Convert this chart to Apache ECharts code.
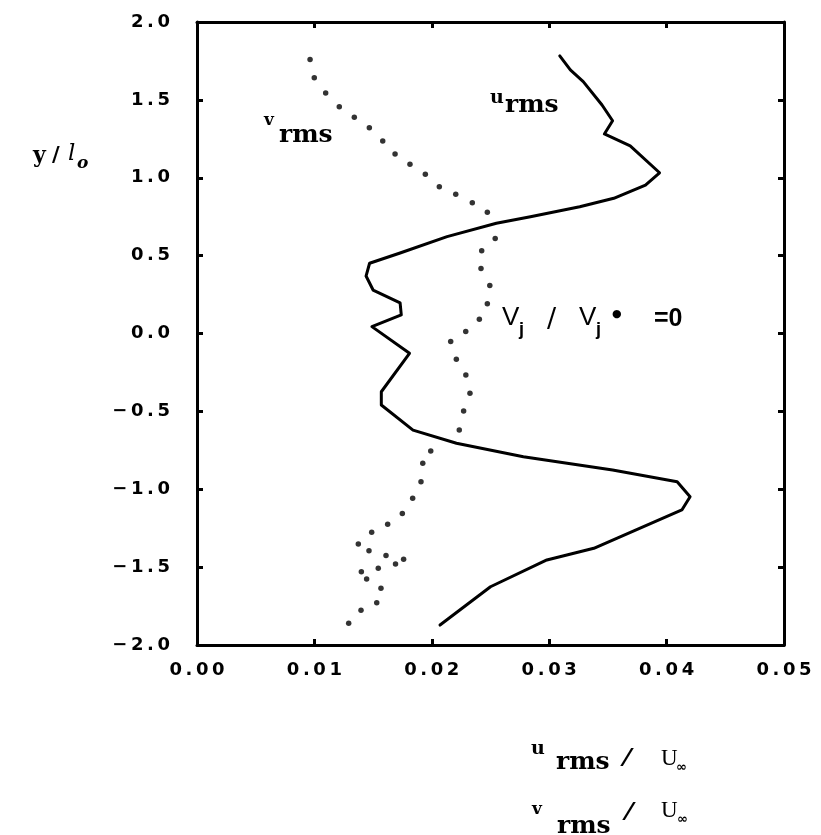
<!DOCTYPE html>
<html>
<head>
<meta charset="utf-8">
<script src="https://cdn.jsdelivr.net/npm/echarts@6/dist/echarts.min.js"></script>
<style>
html,body{margin:0;padding:0;background:#fff;}
#chart{width:821px;height:835px;}
</style>
</head>
<body>
<div id="chart"></div>
<script>
// ---- data ----
const xTickValues = [0, 0.01, 0.02, 0.03, 0.04, 0.05];
const yTickValues = [-2.0, -1.5, -1.0, -0.5, 0.0, 0.5, 1.0, 1.5, 2.0];

// u_rms / U_inf (solid line), ordered from top to bottom
const uRmsX = [0.0309,0.0318,0.0329,0.0345,0.0354,0.0347,0.0369,0.0394,0.0382,0.0355,0.0326,0.0284,0.0255,0.0213,0.0173,0.0147,0.0144,0.0150,0.0173,0.0174,0.0149,0.0181,0.0157,0.0157,0.0184,0.0221,0.0278,0.0354,0.0409,0.0420,0.0413,0.0338,0.0298,0.0250,0.0207];
const uRmsY = [1.782,1.692,1.617,1.467,1.366,1.281,1.204,1.032,0.953,0.868,0.814,0.750,0.708,0.622,0.517,0.451,0.369,0.279,0.196,0.119,0.044,-0.127,-0.374,-0.459,-0.620,-0.705,-0.791,-0.876,-0.952,-1.048,-1.133,-1.379,-1.454,-1.626,-1.872];

// v_rms / U_inf (dotted), ordered from top to bottom
const vRmsX = [0.00963,0.00999,0.01096,0.01212,0.01340,0.01468,0.01582,0.01687,0.01814,0.01945,0.02064,0.02204,0.02345,0.02473,0.02540,0.02425,0.02419,0.02494,0.02473,0.02405,0.02289,0.02161,0.02209,0.02290,0.02325,0.02271,0.02234,0.01991,0.01923,0.01908,0.01837,0.01749,0.01624,0.01488,0.01374,0.01465,0.01610,0.01760,0.01691,0.01544,0.01400,0.01445,0.01567,0.01531,0.01397,0.01292];
const vRmsY = [1.760,1.642,1.544,1.456,1.388,1.321,1.236,1.152,1.086,1.022,0.943,0.894,0.840,0.778,0.610,0.531,0.417,0.308,0.191,0.092,0.013,-0.051,-0.166,-0.266,-0.384,-0.498,-0.620,-0.754,-0.833,-0.952,-1.058,-1.155,-1.224,-1.276,-1.352,-1.395,-1.425,-1.450,-1.480,-1.508,-1.529,-1.576,-1.635,-1.728,-1.777,-1.861];

// ---- build ----
const uData = uRmsX.map((x, i) => [x, uRmsY[i]]);
const vData = vRmsX.map((x, i) => [x, vRmsY[i]]);

const TS = '\u2009';
function spaced(s) { return s.split('').join(TS); }
function fmtY(v) {
  const s = spaced(Math.abs(v).toFixed(1));
  return v < 0 ? '\u2212' + TS + s : s;
}
function fmtX(v) { return spaced(v.toFixed(2)); }

const tickFont = { fontFamily: 'DejaVu Sans', fontWeight: 'bold', fontSize: 18, color: '#000' };
const lineStyle = { color: '#000', width: 3 };

function baseAxis(extra) {
  return Object.assign({
    type: 'value',
    axisLine: { show: true, onZero: false, lineStyle: lineStyle },
    axisTick: { show: true, inside: true, length: 6, lineStyle: { color: '#000', width: 3 } },
    splitLine: { show: false },
    minorTick: { show: false }
  }, extra);
}

const serif = "'DejaVu Serif'";
function t(str, x, y, font, extra) {
  return Object.assign({
    type: 'text', x: x, y: y, silent: true,
    style: { text: str, font: font, fill: '#000', align: 'left', verticalAlign: 'middle' }
  }, extra || {});
}

const graphics = [
  // u_rms label near solid curve
  t('u', 490, 98, 'bold 19px ' + serif),
  t('rms', 505, 105, 'bold 25px ' + serif),
  // v_rms label near dotted curve
  t('v', 264, 121, 'bold 17px ' + serif),
  t('rms', 279, 135, 'bold 25px ' + serif),
  // Vj / Vj* = 0
  t('V', 502, 318, "26px 'Liberation Sans Narrow', 'Liberation Sans'"),
  t('j', 519, 330, "bold 18px 'Liberation Sans Narrow', 'Liberation Sans'"),
  t('/', 547, 320, "27px 'DejaVu Sans'"),
  t('V', 579, 318, "26px 'Liberation Sans Narrow', 'Liberation Sans'"),
  t('j', 596, 330, "bold 18px 'Liberation Sans Narrow', 'Liberation Sans'"),
  t('\u25CF', 612, 314, "11px 'DejaVu Sans'"),
  t('=0', 654, 319, "bold 25px 'Liberation Sans Narrow', 'Liberation Sans'"),
  // y axis name  y / l_o
  t('y', 33, 156, 'bold 22px ' + serif),
  t('/', 52, 156, 'bold 21px ' + serif),
  t('l', 68, 154, 'italic 23px ' + serif),
  t('o', 77, 164, 'bold italic 17px ' + serif),
  // x axis names
  t('u', 531, 749, 'bold 19px ' + serif),
  t('rms', 556, 762, 'bold 25px ' + serif),
  t('\u2044', 625, 760, "bold 24px 'DejaVu Sans'"),
  t('U', 661, 759, "23px 'Liberation Serif'"),
  t('\u221E', 676, 768, "bold 13px 'DejaVu Sans'"),
  t('v', 532, 810, 'bold 17px ' + serif),
  t('rms', 557, 826, 'bold 25px ' + serif),
  t('\u2044', 627, 814, "bold 24px 'DejaVu Sans'"),
  t('U', 661, 811, "23px 'Liberation Serif'"),
  t('\u221E', 677, 820, "bold 13px 'DejaVu Sans'")
];

const option = {
  backgroundColor: '#fff',
  animation: false,
  grid: { left: 197, right: 37, top: 22, bottom: 190, containLabel: false, outerBoundsMode: 'none' },
  xAxis: [
    baseAxis({ position: 'bottom', min: xTickValues[0], max: xTickValues[xTickValues.length - 1], interval: 0.01,
      axisLabel: Object.assign({ show: true, margin: 16, formatter: fmtX }, tickFont) }),
    baseAxis({ position: 'top', min: xTickValues[0], max: xTickValues[xTickValues.length - 1], interval: 0.01,
      axisLabel: { show: false } })
  ],
  yAxis: [
    baseAxis({ position: 'left', min: yTickValues[0], max: yTickValues[yTickValues.length - 1], interval: 0.5,
      axisLabel: Object.assign({ show: true, margin: 27, formatter: fmtY }, tickFont) }),
    baseAxis({ position: 'right', min: yTickValues[0], max: yTickValues[yTickValues.length - 1], interval: 0.5,
      axisLabel: { show: false } })
  ],
  series: [
    {
      name: 'u_rms', type: 'line', data: uData, xAxisIndex: 0, yAxisIndex: 0,
      showSymbol: false, smooth: false,
      lineStyle: { color: '#000', width: 3, join: 'round', cap: 'round' }
    },
    {
      name: 'v_rms', type: 'scatter', data: vData, xAxisIndex: 0, yAxisIndex: 0,
      symbol: 'circle', symbolSize: 5.5, itemStyle: { color: '#000' }
    }
  ],
  graphic: graphics
};

const chart = echarts.init(document.getElementById('chart'), null, { renderer: 'canvas' });
chart.setOption(option);
</script>
</body>
</html>
